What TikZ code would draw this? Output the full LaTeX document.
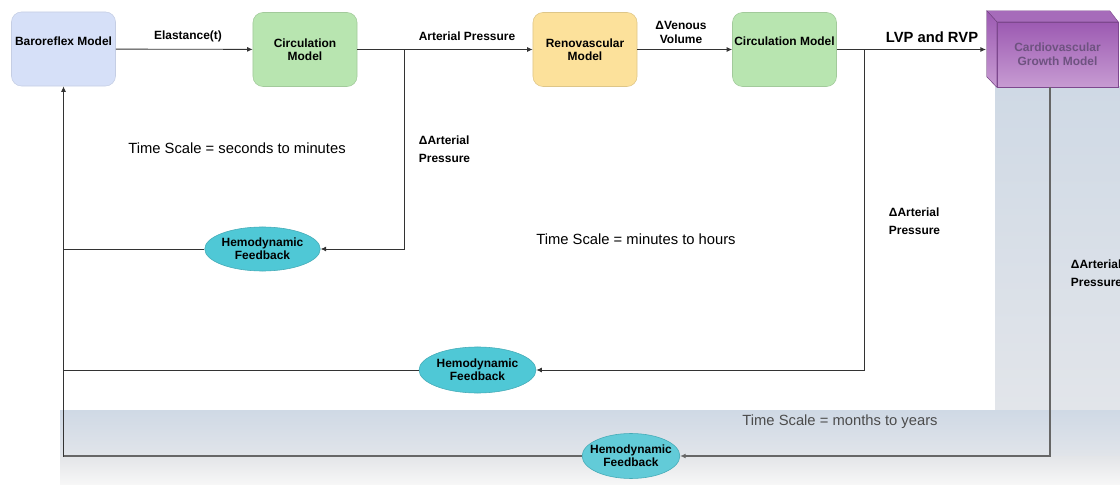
\documentclass[tikz,border=0pt]{standalone}
\usepackage{fontspec}
\setmainfont{Liberation Sans}
\usetikzlibrary{arrows.meta, shapes.geometric, positioning}

\definecolor{baroblue}{HTML}{D6E0F8}
\definecolor{circgreen}{HTML}{B8E5B0}
\definecolor{renoyellow}{HTML}{FCE19B}
\definecolor{feedcyan}{HTML}{4FC8D6}
\definecolor{cubetop}{HTML}{9C5AB2}
\definecolor{cubebot}{HTML}{C79BD2}
\definecolor{cubetext}{HTML}{6E5280}
\definecolor{bandtop}{HTML}{CFD9E5}
\definecolor{bandmid}{HTML}{E2E5EA}
\definecolor{bandlow}{HTML}{E3E5E8}
\definecolor{linegray}{HTML}{333333}

\begin{document}
\begin{tikzpicture}[x=0.025cm, y=-0.025cm,
  modelbox/.style={rounded corners=0.25cm, minimum width=2.6cm, minimum height=1.85cm,
    inner sep=0pt, align=center, font=\fontsize{8.5}{9.5}\selectfont\bfseries},
  raisedtext/.style={text height=6.2pt, text depth=11.5pt},
  feedback/.style={ellipse, fill=feedcyan, draw=feedcyan!85!black, inner xsep=0pt, inner ysep=0pt,
    align=center, font=\fontsize{8.5}{9.5}\selectfont\bfseries},
  lbl/.style={align=center, font=\fontsize{8.5}{10}\selectfont\bfseries},
  timescale/.style={font=\fontsize{10.5}{12}\selectfont},
  arr/.style={draw=linegray, line width=0.6pt, -{Latex[length=4pt,width=3.5pt]}}]
  \useasboundingbox (0,0) rectangle (1120,485);

  % shaded bands behind the slow loop
  \fill[top color=bandtop, bottom color=bandmid] (995,87) rectangle (1120,410);
  \fill[top color=bandtop, bottom color=bandmid!95!bandtop] (60,410) rectangle (1120,456);
  \fill[top color=bandlow, bottom color=white!94!gray] (60,456) rectangle (1120,485);

  % models
  \node[modelbox, raisedtext, fill=baroblue, draw=baroblue!92!black] (baro) at (63.5,49) {Baroreflex Model};
  \node[modelbox, fill=circgreen, draw=circgreen!88!black] (circA) at (305,49.5) {Circulation\\Model};
  \node[modelbox, fill=renoyellow, draw=renoyellow!88!black] (reno) at (585,49.5) {Renovascular\\Model};
  \node[modelbox, raisedtext, fill=circgreen, draw=circgreen!88!black] (circB) at (784.5,49.5) {Circulation Model};

  \node[minimum width=3.025cm, minimum height=1.625cm, inner sep=0pt, top color=cubetop, bottom color=cubebot,
    draw=cubetop!80!black, line width=0.3pt, align=center, text=cubetext,
    font=\fontsize{8.5}{10}\selectfont\bfseries] (cube) at (1057.5,54.5) {Cardiovascular\\Growth Model};
  \fill[cubetop!90!white, draw=cubetop!80!black, line width=0.3pt]
    (cube.north west) -- ++(-10,-11) -- ++(123,0) -- (cube.north east) -- cycle;
  \fill[top color=cubetop, bottom color=cubebot, draw=cubetop!80!black, line width=0.3pt]
    (cube.north west) -- ++(-10,-11) -- ++(0,66) -- (cube.south west) -- cycle;

  % labels on the forward path
  \node[lbl] (elast) at (188,36) {Elastance(t)};
  \node[lbl] (artp) at (467,36) {Arterial Pressure};
  \node[lbl] (venvol) at (681,32) {ΔVenous\\Volume};
  \node[lbl, font=\fontsize{10.5}{12}\selectfont\bfseries] (lvp) at (932,37) {LVP and RVP};

  % feedback ellipses
  \node[feedback, minimum width=2.875cm, minimum height=1.1cm] (fbA) at (262.5,249) {Hemodynamic\\Feedback};
  \node[feedback, minimum width=2.925cm, minimum height=1.15cm] (fbB) at (477.5,370) {Hemodynamic\\Feedback};
  \node[feedback, inner xsep=-4.5pt, minimum height=1.125cm, fill=feedcyan!85!bandtop] (fbC) at (631,456) {Hemodynamic\\Feedback};

  \node[lbl, align=left, anchor=west, font=\fontsize{8.5}{12.8}\selectfont\bfseries] (dpA) at (414,149) {ΔArterial\\Pressure};
  \node[lbl, align=left, anchor=west, font=\fontsize{8.5}{12.8}\selectfont\bfseries] (dpB) at (884,221) {ΔArterial\\Pressure};
  \node[lbl, align=left, anchor=west, font=\fontsize{8.5}{12.8}\selectfont\bfseries] (dpC) at (1066,273) {ΔArterial\\Pressure};

  \node[timescale] (tsA) at (237,148) {Time Scale = seconds to minutes};
  \node[timescale] (tsB) at (636,239) {Time Scale = minutes to hours};
  \node[timescale, text=black!70] (tsC) at (840,422) {Time Scale = months to years};

  % forward path
  \coordinate (brA) at (404,49.5);
  \coordinate (brB) at (864,49.5);
  \coordinate (cubein) at (986,49.5);
  \coordinate (cubeout) at (1050,87);
  \draw[arr] (baro) -- (circA);
  \draw[arr] (circA) -- (reno);
  \draw[arr] (reno) -- (circB);
  \draw[arr] (circB) -- (cubein);

  % feedback loops
  \draw[arr] (brA) |- (fbA);
  \draw[arr] (brB) |- (fbB);
  \draw[arr, draw=black!60, line width=1pt] (cubeout) |- (fbC);
  \draw[arr] (fbC) -| (baro);
  \draw[draw=linegray, line width=0.6pt] (fbA) -- (fbA -| baro);
  \draw[draw=linegray, line width=0.6pt] (fbB) -- (fbB -| baro);
  \draw[draw=black!60, line width=1pt] (fbC) -- (fbC -| baro);
\end{tikzpicture}
\end{document}
